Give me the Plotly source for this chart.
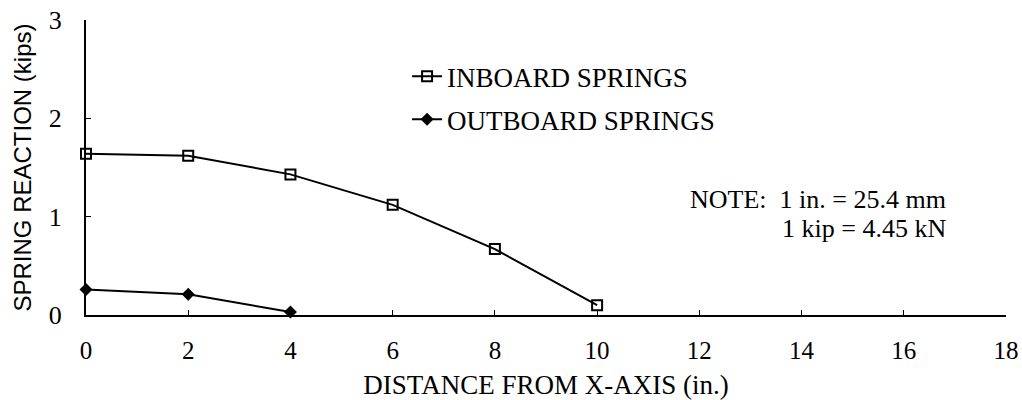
import plotly.graph_objects as go

distance_in = [0, 2, 4, 6, 8, 10]
inboard_kips = [1.64, 1.62, 1.43, 1.12, 0.67, 0.10]
outboard_x = [0, 2, 4]
outboard_kips = [0.26, 0.21, 0.03]
x_ticks = [0, 2, 4, 6, 8, 10, 12, 14, 16, 18]
y_ticks = [0, 1, 2, 3]

serif = "Liberation Serif"
sans = "Liberation Sans"

fig = go.Figure()
fig.add_trace(go.Scatter(
    x=distance_in, y=inboard_kips, mode="lines+markers", name="INBOARD SPRINGS",
    legendgroup="a",
    line=dict(color="black", width=2),
    marker=dict(symbol="square-open", size=10, color="black", line=dict(width=2)),
    cliponaxis=False,
))
fig.add_trace(go.Scatter(
    x=outboard_x, y=outboard_kips, mode="lines+markers", name="OUTBOARD SPRINGS",
    legendgroup="b",
    line=dict(color="black", width=2),
    marker=dict(symbol="diamond", size=10, color="black"),
    cliponaxis=False,
))

fig.add_annotation(x=11.78, y=1.17, xref="x", yref="y", text="NOTE:&nbsp;&nbsp;1 in. = 25.4 mm",
                   showarrow=False, xanchor="left", yanchor="middle",
                   font=dict(family=serif, size=26, color="black"))
fig.add_annotation(x=13.58, y=0.875, xref="x", yref="y", text="1 kip = 4.45 kN",
                   showarrow=False, xanchor="left", yanchor="middle",
                   font=dict(family=serif, size=26, color="black"))

fig.update_layout(
    width=1022, height=400,
    margin=dict(l=86, r=16, t=20, b=85),
    paper_bgcolor="white", plot_bgcolor="white",
    showlegend=True,
    legend=dict(x=0.349, y=0.891, xanchor="left", yanchor="top",
                font=dict(family=serif, size=27, color="black"),
                bgcolor="rgba(0,0,0,0)", traceorder="grouped", tracegroupgap=5,
                itemwidth=30),
)
fig.update_xaxes(
    range=[0, 18], tickvals=x_ticks, ticktext=[str(v) for v in x_ticks],
    showgrid=False, zeroline=False, showline=True, linecolor="black", linewidth=2,
    ticks="inside", ticklen=5, tickwidth=1, tickcolor="black", automargin=False,
    ticklabeloverflow="allow",
    tickfont=dict(family=serif, size=25, color="black"), ticklabelstandoff=12,
    title=dict(text="DISTANCE FROM X-AXIS (in.)", font=dict(family=serif, size=27, color="black"),
               standoff=12),
)
fig.update_yaxes(
    range=[0, 3], tickvals=y_ticks, ticktext=[str(v) for v in y_ticks],
    showgrid=False, zeroline=False, showline=True, linecolor="black", linewidth=2,
    ticks="inside", ticklen=5, tickwidth=1, tickcolor="black", automargin=False,
    ticklabeloverflow="allow",
    tickfont=dict(family=serif, size=26, color="black"), ticklabelstandoff=17,
    title=dict(text="SPRING REACTION (kips)", font=dict(family=sans, size=24, color="black"),
               standoff=10),
)

fig.write_html(
    "out.html",
    config={"displayModeBar": False},
    post_script="document.body.style.margin='0px';document.documentElement.style.overflow='hidden';",
)
